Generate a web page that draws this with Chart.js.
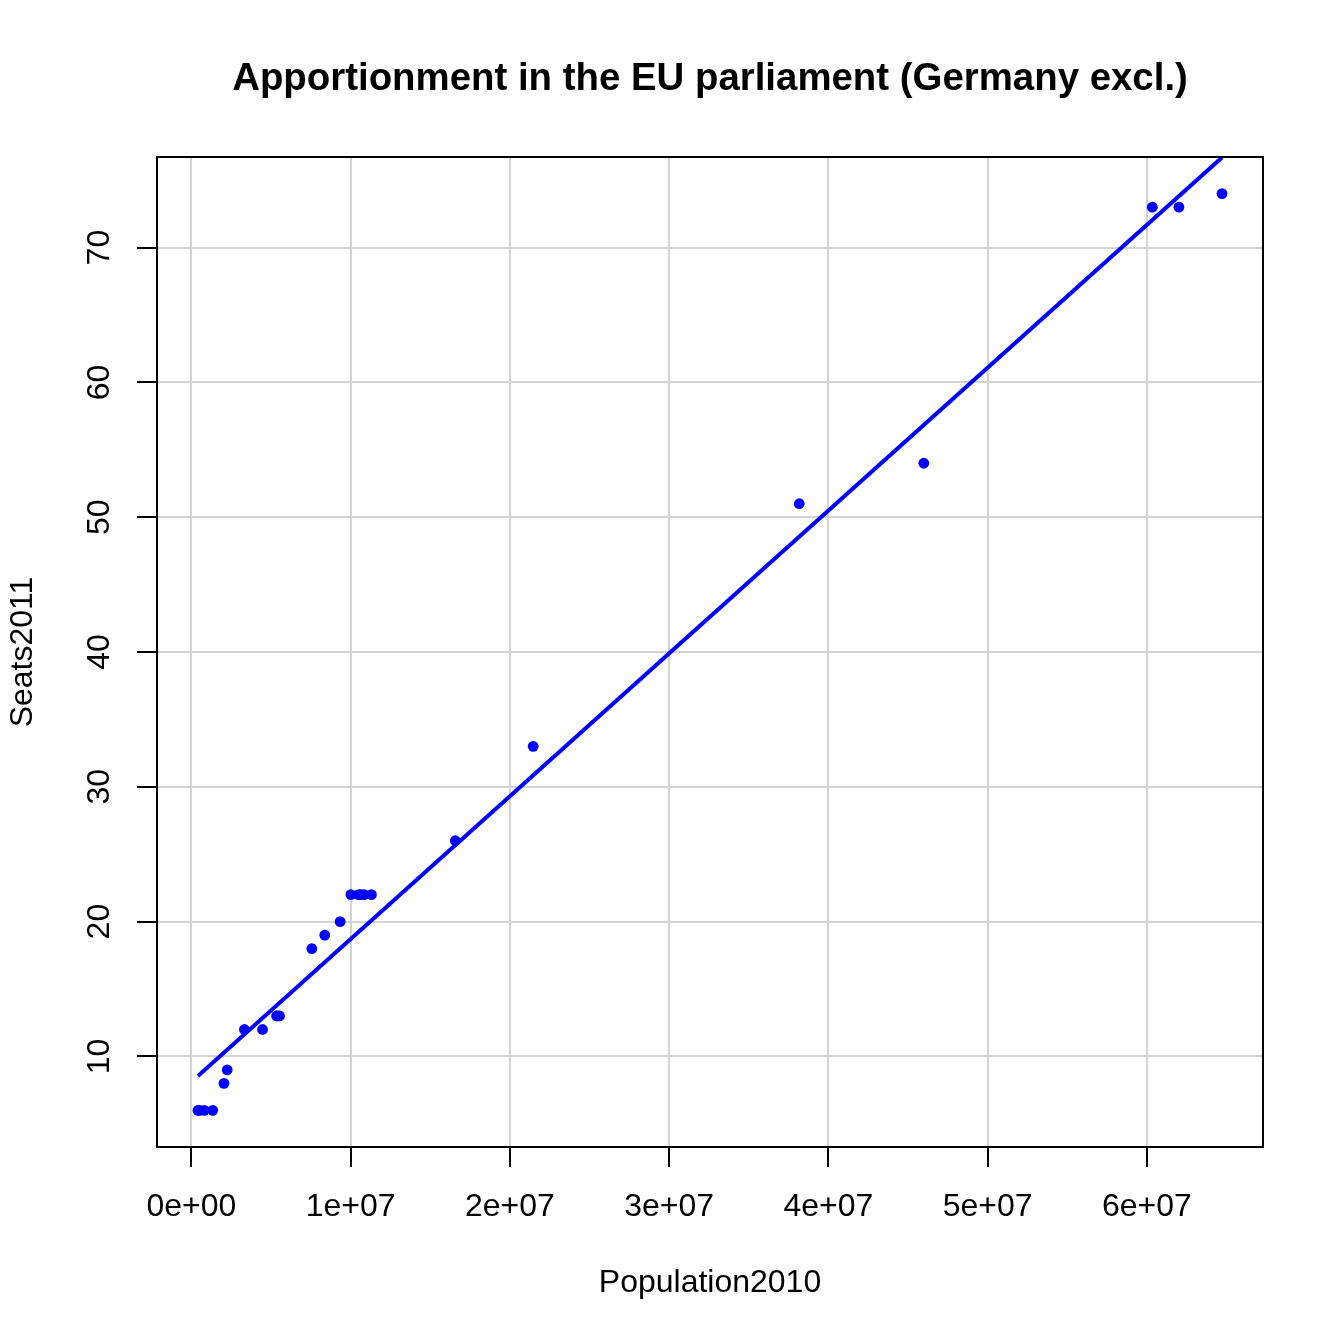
<!DOCTYPE html>
<html>
<head>
<meta charset="utf-8">
<title>Apportionment in the EU parliament</title>
<script src="https://cdn.jsdelivr.net/npm/chart.js"></script>
<style>
  html, body { margin: 0; padding: 0; background: #ffffff; overflow: hidden; }
  canvas { display: block; }
</style>
</head>
<body>
<canvas id="seatsChart" width="1344" height="1344"></canvas>
<script>
// EU member states without Germany
const countries = [
    'Malta', 'Luxembourg', 'Cyprus', 'Estonia', 'Slovenia', 'Latvia',
    'Lithuania', 'Ireland', 'Finland', 'Slovakia', 'Denmark', 'Bulgaria',
    'Austria', 'Sweden', 'Hungary', 'Czech Republic', 'Portugal', 'Belgium',
    'Greece', 'Netherlands', 'Romania', 'Poland', 'Spain', 'Italy',
    'United Kingdom', 'France'
];
const population2010 = [
    412970, 502066, 803147, 1340127, 2046976, 2248374,
    3329039, 4467854, 5351427, 5424925, 5534738, 7563710,
    8375290, 9340682, 10014324, 10506813, 10637713, 10839905,
    11305118, 16574989, 21462186, 38167329, 45989016, 60340328,
    62008048, 64716310
];
const seats2011 = [
    6, 6, 6, 6, 8, 9,
    12, 12, 13, 13, 13, 18,
    19, 20, 22, 22, 22, 22,
    22, 26, 33, 51, 54, 73,
    73, 74
];

const fitPopulation = [412970, 64716310];
const fitSeats = [8.54, 76.69];

const xTicks = [0, 1e7, 2e7, 3e7, 4e7, 5e7, 6e7];
const xTickLabels = ['0e+00', '1e+07', '2e+07', '3e+07', '4e+07', '5e+07', '6e+07'];
const yTicks = [10, 20, 30, 40, 50, 60, 70];

// axis limits (data range plus 4% each side)
const xLimits = [-2159000, 67288000];
const yLimits = [3.28, 76.72];

Chart.defaults.font.family = "'Liberation Sans', Arial, sans-serif";
Chart.defaults.color = '#000000';

const plotFrame = {
    id: 'plotFrame',
    afterDatasetsDraw(chart) {
        const a = chart.chartArea;
        const ctx = chart.ctx;
        ctx.save();
        ctx.strokeStyle = '#000000';
        ctx.lineWidth = 2;
        ctx.strokeRect(a.left, a.top, a.right - a.left, a.bottom - a.top);
        ctx.restore();
    }
};

const config = {
    type: 'scatter',
    data: {
        datasets: [
            {
                label: 'Seats2011',
                data: population2010.map((p, i) => ({ x: p, y: seats2011[i] })),
                backgroundColor: '#0000ff',
                borderWidth: 0,
                pointRadius: 5.4,
                pointHoverRadius: 5.4
            },
            {
                label: 'fit',
                type: 'line',
                data: fitPopulation.map((p, i) => ({ x: p, y: fitSeats[i] })),
                borderColor: '#0000ff',
                borderWidth: 4,
                pointRadius: 0,
                fill: false,
                tension: 0
            }
        ]
    },
    options: {
        responsive: false,
        devicePixelRatio: 1,
        animation: false,
        events: [],
        layout: {
            padding: { left: 0, right: 81, top: 0, bottom: 0 }
        },
        plugins: {
            legend: { display: false },
            tooltip: { enabled: false },
            title: {
                display: true,
                fullSize: false,  // centre it over the plot box, like R does
                text: 'Apportionment in the EU parliament (Germany excl.)',
                color: '#000000',
                font: { size: 38.4, weight: 'bold', lineHeight: 1.2 },
                padding: { top: 56, bottom: 54.92 }
            }
        },
        scales: {
            x: {
                type: 'linear',
                position: 'bottom',
                min: xLimits[0],
                max: xLimits[1],
                afterBuildTicks: (scale) => {
                    scale.ticks = xTicks.map(v => ({ value: v }));
                },
                afterFit: (scale) => { scale.height = 197; },
                ticks: {
                    autoSkip: false,
                    maxRotation: 0,
                    minRotation: 0,
                    padding: 20.8,
                    color: '#000000',
                    font: { size: 32, lineHeight: 1.2 },
                    callback: (value) => xTickLabels[xTicks.indexOf(value)]
                },
                grid: {
                    color: '#d3d3d3',
                    lineWidth: 2,
                    drawTicks: true,
                    tickLength: 20,
                    tickColor: '#000000',
                    tickWidth: 2
                },
                border: { display: false },
                title: {
                    display: true,
                    text: 'Population2010',
                    color: '#000000',
                    font: { size: 32, lineHeight: 1.2 },
                    padding: { top: 0, bottom: 41.3 }
                }
            },
            y: {
                type: 'linear',
                position: 'left',
                min: yLimits[0],
                max: yLimits[1],
                afterBuildTicks: (scale) => {
                    scale.ticks = yTicks.map(v => ({ value: v }));
                },
                afterFit: (scale) => { scale.width = 157; },
                ticks: {
                    autoSkip: false,
                    minRotation: 90,
                    maxRotation: 90,
                    crossAlign: 'center',
                    padding: 19.2,
                    color: '#000000',
                    font: { size: 32, lineHeight: 1.2 },
                    callback: (value) => String(value)
                },
                grid: {
                    color: '#d3d3d3',
                    lineWidth: 2,
                    drawTicks: true,
                    tickLength: 20,
                    tickColor: '#000000',
                    tickWidth: 2
                },
                border: { display: false },
                title: {
                    display: true,
                    text: 'Seats2011',
                    color: '#000000',
                    font: { size: 32, lineHeight: 1.2 },
                    padding: { top: 4.3, bottom: 0 }
                }
            }
        }
    },
    plugins: [plotFrame]
};

const seatsChart = new Chart(document.getElementById('seatsChart'), config);
</script>
</body>
</html>
